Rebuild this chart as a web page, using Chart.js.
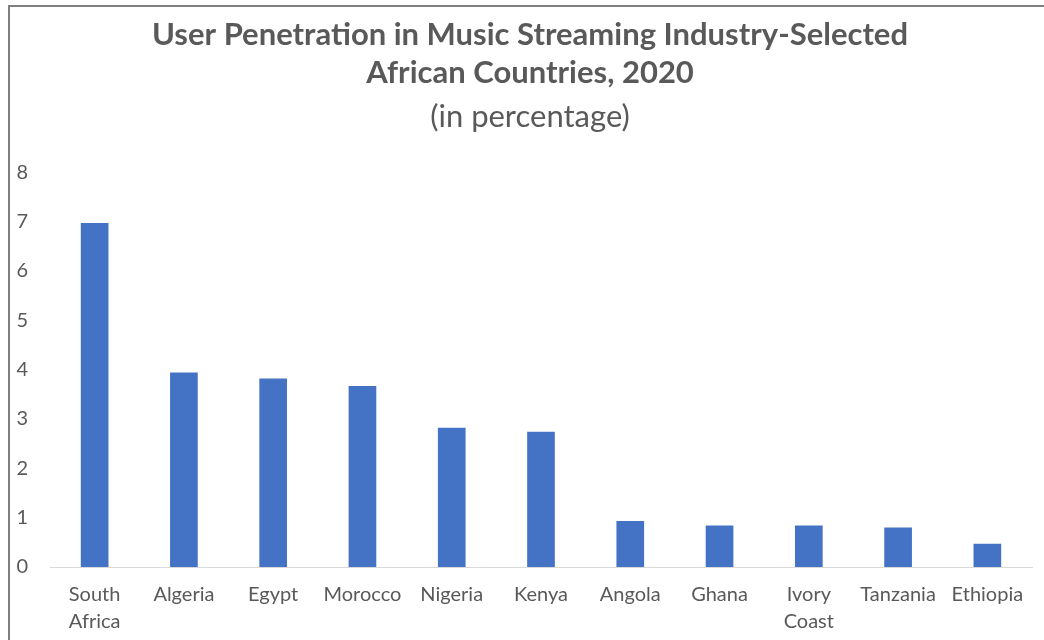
<!DOCTYPE html>
<html>
<head>
<meta charset="utf-8">
<title>User Penetration in Music Streaming</title>
<script src="https://cdn.jsdelivr.net/npm/chart.js@4"></script>
<style>
  html, body { margin: 0; padding: 0; background: #fff; }
  #wrap { position: relative; width: 1044px; height: 640px; }
  #frame {
    position: absolute; left: 8px; top: 5px; right: -4px; bottom: -4px;
    border-top: 2px solid #7f7f7f; border-left: 2px solid #7f7f7f;
    pointer-events: none;
  }
</style>
</head>
<body>
<div id="wrap">
  <canvas id="myChart" width="1044" height="640"></canvas>
  <div id="frame"></div>
</div>
<script>
/* global Chart */

// countries, multi-line ones split into arrays
let countries = [
  ["South", "Africa"], "Algeria", "Egypt", "Morocco", "Nigeria", "Kenya",
  "Angola", "Ghana", ["Ivory", "Coast"], "Tanzania", "Ethiopia"
];
// user penetration, %
let penetration = [6.97, 3.94, 3.82, 3.67, 2.82, 2.74, 0.93, 0.84, 0.84, 0.8, 0.47];
let yTicks = [0, 1, 2, 3, 4, 5, 6, 7, 8];

const textColor = "#595959";
const fontFamily = "Lato, 'Open Sans', sans-serif";

const ctx = document.getElementById("myChart");
const myChart = new Chart(ctx, {
  type: "bar",
  data: {
    labels: countries,
    datasets: [
      {
        label: "User penetration",
        data: penetration,
        backgroundColor: "#4472C4",
        borderWidth: 0,
        barPercentage: 0.31,
        categoryPercentage: 1,
      },
    ],
  },
  options: {
    responsive: false,
    animation: false,
    layout: {
      // negative right padding + empty right axis: title sits centred over the bars
      padding: { left: 8, right: -8, top: 0, bottom: 0 },
    },
    plugins: {
      legend: { display: false },
      tooltip: { enabled: false },
      title: {
        display: true,
        text: [
          "User Penetration in Music Streaming Industry-Selected",
          "African Countries, 2020",
        ],
        color: textColor,
        font: { family: fontFamily, size: 31, weight: "bold", lineHeight: 1.226 },
        padding: { top: 16, bottom: 6 },
      },
      subtitle: {
        display: true,
        text: "(in percentage)",
        color: textColor,
        font: { family: fontFamily, size: 31, weight: "normal", lineHeight: 1.2 },
        padding: { top: 0, bottom: 37 },
      },
    },
    scales: {
      x: {
        grid: { display: false, drawTicks: false },
        border: { display: true, color: "#d9d9d9", width: 1 },
        ticks: {
          color: textColor,
          font: { family: fontFamily, size: 20, lineHeight: 1.35 },
          padding: 14,
          maxRotation: 0,
          autoSkip: false,
        },
        afterFit: function (scale) {
          scale.height = 73;
        },
      },
      y: {
        min: 0,
        max: 8,
        grid: { display: false, drawTicks: false },
        border: { display: false },
        afterBuildTicks: function (scale) {
          scale.ticks = yTicks.map(function (v) {
            return { value: v };
          });
        },
        ticks: {
          color: textColor,
          font: { family: fontFamily, size: 20 },
          padding: 22,
        },
        afterFit: function (scale) {
          scale.width = 42;
        },
      },
      // empty spacer on the right
      yRight: {
        position: "right",
        min: 0,
        max: 8,
        grid: { display: false, drawTicks: false },
        border: { display: false },
        ticks: { display: false },
        afterFit: function (scale) {
          scale.width = 20;
        },
      },
    },
  },
});
</script>
</body>
</html>
